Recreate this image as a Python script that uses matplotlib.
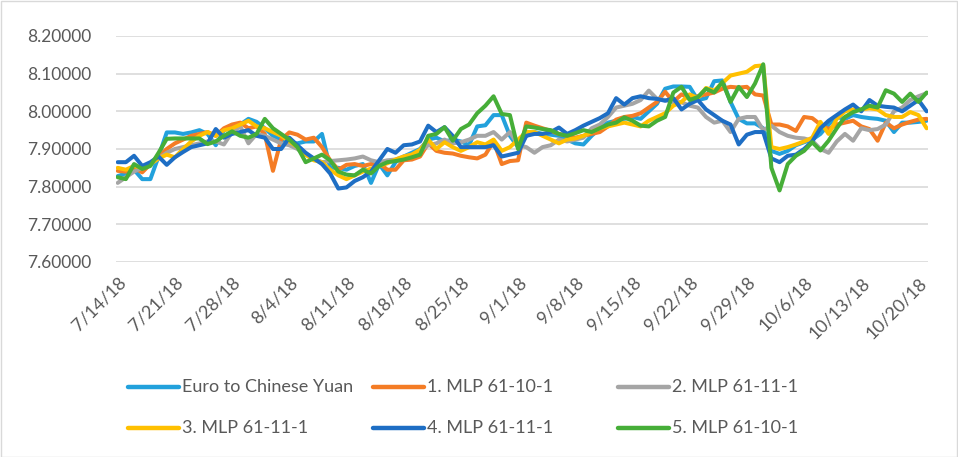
import matplotlib
matplotlib.use("Agg")
import matplotlib.pyplot as plt
import numpy as np
import pandas as pd
from matplotlib.lines import Line2D
from matplotlib.patches import Rectangle

plt.rcParams['font.family'] = ['Lato', 'DejaVu Sans']

dates = pd.date_range('2018-07-14', periods=100, freq='D')
tick_dates = pd.date_range('2018-07-14', '2018-10-20', freq='7D')
tick_labels = [f"{d.month}/{d.day}/{d.year % 100}" for d in tick_dates]
y_ticks = [7.6, 7.7, 7.8, 7.9, 8.0, 8.1, 8.2]

series_names = ["Euro to Chinese Yuan", "1. MLP 61-10-1", "2. MLP 61-11-1",
                "3. MLP 61-11-1", "4. MLP 61-11-1", "5. MLP 61-10-1"]
colors = ['#22A1DC', '#F47C25', '#A5A5A5', '#FFC000', '#1E6EC4', '#46AE38']

euro = [7.828, 7.835, 7.845, 7.82, 7.82, 7.88, 7.944, 7.944, 7.94, 7.944, 7.95, 7.94, 7.91, 7.95, 7.958,
        7.965, 7.98, 7.972, 7.955, 7.935, 7.925, 7.915, 7.915, 7.92, 7.92, 7.94, 7.85, 7.85, 7.845, 7.855,
        7.86, 7.81, 7.86, 7.83, 7.865, 7.88, 7.89, 7.9, 7.925, 7.93, 7.92, 7.925, 7.92, 7.91,
        7.96, 7.963, 7.99, 7.99, 7.935, 7.905, 7.935, 7.945, 7.94, 7.938, 7.935, 7.925, 7.915, 7.912,
        7.935, 7.955, 7.97, 7.975, 7.98, 7.985, 7.98, 8.0, 8.02, 8.06, 8.066, 8.066,
        8.065, 8.03, 8.035, 8.08, 8.082, 8.025, 7.98, 7.968, 7.968, 7.955, 7.895, 7.887, 7.895, 7.91, 7.918,
        7.925, 7.94, 7.965, 7.985, 7.98, 7.99, 7.985, 7.982, 7.98, 7.975, 7.945, 7.97, 7.97, 7.972, 7.975]

mlp1 = [7.842, 7.84, 7.85, 7.838, 7.86, 7.88, 7.90, 7.915, 7.925, 7.935, 7.94, 7.945, 7.935, 7.955, 7.965,
        7.97, 7.955, 7.96, 7.94, 7.842, 7.925, 7.944, 7.938, 7.925, 7.93, 7.905, 7.87, 7.845, 7.858, 7.86,
        7.855, 7.86, 7.862, 7.845, 7.845, 7.87, 7.872, 7.88, 7.915, 7.895, 7.89, 7.888, 7.882, 7.878,
        7.875, 7.885, 7.92, 7.86, 7.868, 7.87, 7.97, 7.962, 7.955, 7.948, 7.94, 7.935, 7.93, 7.935,
        7.94, 7.945, 7.96, 7.978, 7.985, 7.988, 7.995, 8.01, 8.025, 8.052, 8.025, 8.045,
        8.035, 8.04, 8.045, 8.05, 8.06, 8.065, 8.063, 8.065, 8.045, 8.042, 7.965, 7.965, 7.96, 7.948, 7.985,
        7.982, 7.965, 7.953, 7.965, 7.97, 7.975, 7.96, 7.953, 7.922, 7.97, 7.955, 7.965, 7.972, 7.978, 7.98]

mlp2 = [7.81, 7.825, 7.84, 7.85, 7.86, 7.875, 7.89, 7.90, 7.905, 7.91, 7.915, 7.92, 7.92, 7.912, 7.945,
        7.96, 7.915, 7.94, 7.935, 7.925, 7.915, 7.91, 7.9, 7.885, 7.875, 7.865, 7.868, 7.87, 7.872, 7.875,
        7.88, 7.87, 7.865, 7.87, 7.872, 7.88, 7.885, 7.895, 7.91, 7.915, 7.925, 7.915, 7.918, 7.925,
        7.935, 7.935, 7.945, 7.925, 7.945, 7.91, 7.905, 7.89, 7.905, 7.91, 7.925, 7.92, 7.925, 7.93,
        7.955, 7.965, 7.985, 8.01, 8.015, 8.02, 8.03, 8.055, 8.033, 8.03, 8.025, 8.024,
        8.015, 8.01, 7.985, 7.97, 7.975, 7.945, 7.98, 7.985, 7.985, 7.95, 7.962, 7.945, 7.935, 7.93, 7.928,
        7.922, 7.9, 7.89, 7.92, 7.94, 7.922, 7.955, 7.95, 7.953, 7.965, 8.0, 8.01, 8.03, 8.04, 8.048]

mlp3 = [7.85, 7.845, 7.855, 7.85, 7.86, 7.875, 7.885, 7.878, 7.90, 7.92, 7.935, 7.945, 7.935, 7.95, 7.955,
        7.965, 7.975, 7.96, 7.955, 7.945, 7.935, 7.92, 7.905, 7.885, 7.87, 7.865, 7.845, 7.83, 7.82, 7.83,
        7.84, 7.848, 7.855, 7.862, 7.872, 7.88, 7.885, 7.898, 7.925, 7.9, 7.918, 7.905, 7.895, 7.905,
        7.918, 7.912, 7.925, 7.895, 7.905, 7.925, 7.945, 7.945, 7.935, 7.925, 7.915, 7.925, 7.928, 7.935,
        7.945, 7.955, 7.96, 7.965, 7.97, 7.965, 7.96, 7.975, 7.985, 7.995, 8.015, 8.025,
        8.045, 8.035, 8.062, 8.055, 8.075, 8.095, 8.1, 8.105, 8.12, 8.122, 7.905, 7.9, 7.905, 7.912, 7.92,
        7.93, 7.972, 7.94, 7.98, 8.0, 8.005, 8.005, 8.008, 8.005, 7.99, 7.985, 7.985, 7.998, 7.99, 7.955]

mlp4 = [7.865, 7.865, 7.882, 7.855, 7.865, 7.88, 7.858, 7.878, 7.892, 7.905, 7.91, 7.915, 7.953, 7.93, 7.94,
        7.945, 7.95, 7.935, 7.93, 7.9, 7.9, 7.93, 7.91, 7.89, 7.875, 7.86, 7.835, 7.795, 7.798, 7.815,
        7.825, 7.84, 7.87, 7.9, 7.89, 7.91, 7.912, 7.92, 7.962, 7.945, 7.958, 7.935, 7.905, 7.905,
        7.905, 7.905, 7.91, 7.88, 7.885, 7.89, 7.935, 7.94, 7.94, 7.945, 7.957, 7.94, 7.95, 7.962,
        7.972, 7.982, 7.995, 8.035, 8.018, 8.035, 8.04, 8.035, 8.033, 8.028, 8.035, 8.005,
        8.02, 8.03, 8.005, 7.99, 7.975, 7.965, 7.912, 7.938, 7.945, 7.945, 7.875, 7.865, 7.882, 7.885, 7.9,
        7.92, 7.955, 7.975, 7.99, 8.005, 8.018, 8.0, 8.03, 8.015, 8.012, 8.01, 8.0, 8.015, 8.03, 8.0]

mlp5 = [7.825, 7.82, 7.86, 7.847, 7.855, 7.89, 7.927, 7.928, 7.928, 7.928, 7.928, 7.913, 7.92, 7.935, 7.947,
        7.935, 7.93, 7.94, 7.98, 7.955, 7.94, 7.925, 7.905, 7.865, 7.875, 7.885, 7.87, 7.84, 7.832, 7.83,
        7.845, 7.835, 7.855, 7.865, 7.868, 7.872, 7.878, 7.885, 7.935, 7.94, 7.958, 7.922, 7.953, 7.965,
        7.995, 8.015, 8.04, 7.993, 7.99, 7.9, 7.96, 7.957, 7.953, 7.95, 7.94, 7.935, 7.942, 7.95,
        7.945, 7.955, 7.965, 7.97, 7.984, 7.975, 7.962, 7.96, 7.975, 7.985, 8.05, 8.065,
        8.03, 8.038, 8.06, 8.05, 8.078, 8.025, 8.065, 8.038, 8.074, 8.125, 7.85, 7.79, 7.86, 7.882, 7.895,
        7.918, 7.896, 7.922, 7.955, 7.985, 7.998, 8.005, 8.015, 8.01, 8.056, 8.047, 8.025, 8.047, 8.025, 8.05]

all_series = [euro, mlp1, mlp2, mlp3, mlp4, mlp5]

W, H = 958, 457
fig = plt.figure(figsize=(W / 100, H / 100), dpi=100)
ax = fig.add_axes([116 / W, 1 - 262 / H, (928 - 116) / W, (262 - 36) / H])

for vals, c, name in zip(all_series, colors, series_names):
    ax.plot(dates, vals, color=c, lw=2.9, solid_joinstyle='round', solid_capstyle='round', label=name)

ax.set_ylim(7.6, 8.2)
ax.set_yticks(y_ticks)
ax.set_yticklabels([f"{v:.5f}" for v in y_ticks])
ax.set_xlim(dates[0] - pd.Timedelta(hours=5), dates[-1] + pd.Timedelta(hours=4))
ax.set_xticks(tick_dates)
ax.set_xticklabels(tick_labels, rotation=45, ha='right', va='top', rotation_mode='anchor')
ax.grid(axis='y', color='#D9D9D9', lw=1.2)
ax.set_axisbelow(True)
for s in ax.spines.values():
    s.set_visible(False)
ax.tick_params(axis='both', length=0, colors='#595959')
ax.tick_params(axis='y', pad=18, labelsize=12.5)
ax.tick_params(axis='x', pad=9, labelsize=13)

# legend (manual grid layout like Excel)
rows_y = [387, 428]
cols_x = [128, 373, 618]
for i, (name, c) in enumerate(zip(series_names, colors)):
    r, k = divmod(i, 3)
    x0 = cols_x[k]
    y = 1 - rows_y[r] / H
    fig.add_artist(Line2D([x0 / W, (x0 + 51) / W], [y, y], transform=fig.transFigure,
                          color=c, lw=3.2, solid_capstyle='round'))
    fig.text((x0 + 54) / W, y, name, color='#595959', fontsize=13, va='center', ha='left')

fig.add_artist(Rectangle((0.5 / W, 0.5 / H), 1 - 1.5 / W, 1 - 1.5 / H, transform=fig.transFigure,
                         fill=False, edgecolor='#D9D9D9', lw=1))

fig.savefig('out.png', dpi=100)
